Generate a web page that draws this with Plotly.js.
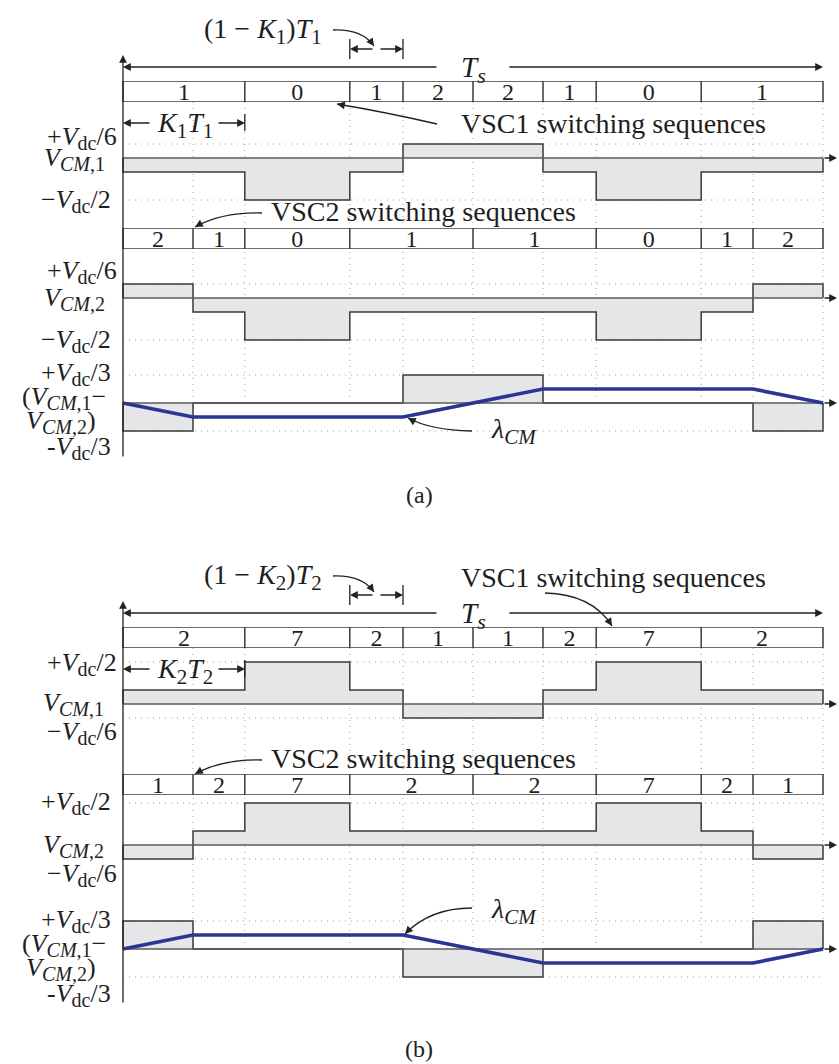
<!DOCTYPE html>
<html><head><meta charset="utf-8">
<script src="https://cdn.plot.ly/plotly-3.0.1.min.js"></script>
<style>html,body{margin:0;padding:0;background:#fff}</style>
</head><body><div id="chart" style="width:839px;height:1064px"></div>
<script>
// ---------------- data (time in fractions of Ts, voltages in units of Vdc/6) ----------------
const vsc1Bounds = [0, 0.174, 0.324, 0.4, 0.5, 0.6, 0.676, 0.826, 1];
const vsc2Bounds = [0, 0.1, 0.174, 0.324, 0.5, 0.676, 0.826, 0.9, 1];
const seqA1 = ['1','0','1','2','2','1','0','1'];
const seqA2 = ['2','1','0','1','1','0','1','2'];
const seqB1 = ['2','7','2','1','1','2','7','2'];
const seqB2 = ['1','2','7','2','2','7','2','1'];
const vcm1A = [-1,-3,-1,1,1,-1,-3,-1];
const vcm2A = [1,-1,-3,-1,-1,-3,-1,1];
const vcm1B = [1,3,1,-1,-1,1,3,1];
const vcm2B = [-1,1,3,1,1,3,1,-1];
const diffBounds = [0, 0.1, 0.4, 0.6, 0.9, 1];
const diffA = [-2,0,2,0,-2];
const diffB = [2,0,-2,0,2];
const lamT = [0, 0.1, 0.4, 0.6, 0.9, 1];
const lamA = [0,-1,-1,1,1,0];
const lamB = [0,1,1,-1,-1,0];

// ---------------- layout helpers ----------------
const W=839, H=1064, X0=123, XW=700, U=14;
const FONT='Liberation Serif, "Times New Roman", serif';
const TXT='#1e1e1e', EDGE='#3a3a3a', AXC='#5a5a5a', DOT='#a0a0a0';
function rowAx(t,b){return {domain:[1-b/H,1-t/H],range:[0,1],visible:false,anchor:'x',fixedrange:true};}
function waveAx(z){return {domain:[1-(z+4.5*U)/H,1-(z-4.5*U)/H],range:[-4.5,4.5],visible:false,anchor:'x',fixedrange:true};}

const layout={width:W,height:H,margin:{l:0,r:0,t:0,b:0},showlegend:false,
  paper_bgcolor:'#fff',plot_bgcolor:'rgba(0,0,0,0)',
  xaxis:{range:[-X0/XW,(W-X0)/XW],visible:false,domain:[0,1],anchor:'y',fixedrange:true},
  yaxis:rowAx(81,102), yaxis2:waveAx(158), yaxis3:rowAx(228,249), yaxis4:waveAx(298), yaxis5:waveAx(403),
  yaxis6:rowAx(627,648), yaxis7:waveAx(704), yaxis8:rowAx(774,795), yaxis9:waveAx(845), yaxis10:waveAx(949)};

const traces=[], shapes=[], annotations=[];

function rowTraces(bounds, labels, ya){
  const xs=[0,1,null,0,1,null], ys=[0,0,null,1,1,null];
  bounds.forEach(b=>{xs.push(b,b,null);ys.push(0,1,null);});
  shapes.push({type:'rect',xref:'x',yref:ya,x0:0,x1:1,y0:0,y1:1,fillcolor:'#fff',line:{width:0},layer:'below'});
  traces.push({x:xs,y:ys,yaxis:ya,mode:'lines',line:{color:EDGE,width:1.5},hoverinfo:'skip'});
  const mx=labels.map((_,i)=>(bounds[i]+bounds[i+1])/2);
  traces.push({x:mx,y:labels.map(()=>0.4),text:labels,yaxis:ya,mode:'text',textposition:'middle center',
    textfont:{family:FONT,size:24,color:TXT},hoverinfo:'skip'});
}
function waveTrace(bounds, vals, ya){
  const xs=[bounds[0]], ys=[0];
  vals.forEach((v,i)=>{xs.push(bounds[i]);ys.push(v);});
  xs.push(bounds[bounds.length-1],bounds[bounds.length-1]); ys.push(vals[vals.length-1],0);
  traces.push({x:xs,y:ys,yaxis:ya,mode:'lines',line:{shape:'hv',color:EDGE,width:1.5},
    fill:'tozeroy',fillcolor:'#e5e6e8',hoverinfo:'skip'});
}
function zeroAxis(ya){
  traces.push({x:[0,1],y:[0,0],yaxis:ya,mode:'lines',line:{color:AXC,width:1.3},hoverinfo:'skip'});
  annotations.push({xref:'x',yref:ya,x:(W-2-X0)/XW,y:0,axref:'x',ayref:ya,ax:1,ay:0,text:'',showarrow:true,
    arrowhead:2,arrowsize:1.2,arrowwidth:1.3,arrowcolor:'#222',standoff:0});
}
function hdot(ya, level){
  shapes.push({type:'line',xref:'x',yref:ya,x0:0,x1:1,y0:level,y1:level,line:{color:DOT,width:1,dash:'1px,5px'},layer:'below'});
}
function lab(text,x,y,size,xanchor){
  annotations.push({xref:'paper',yref:'paper',x:x/W,y:1-y/H,text,showarrow:false,xanchor:xanchor||'center',yanchor:'middle',
    font:{family:FONT,size,color:TXT}});
}
function arrowPx(hx,hy,tx,ty,w){
  annotations.push({xref:'paper',yref:'paper',x:hx/W,y:1-hy/H,axref:'pixel',ayref:'pixel',ax:tx-hx,ay:ty-hy,text:'',
    showarrow:true,arrowhead:2,arrowsize:1.2,arrowwidth:w||1.3,arrowcolor:'#222',standoff:0});
}
function arrowT(ht,hy,tt,w){
  annotations.push({xref:'x',yref:'paper',x:ht,y:1-hy/H,axref:'x',ayref:'pixel',ax:tt,ay:0,text:'',
    showarrow:true,arrowhead:2,arrowsize:1.2,arrowwidth:w||1.3,arrowcolor:'#222',standoff:0});
}
function vtick(t,y0,y1){
  shapes.push({type:'line',xref:'x',yref:'paper',x0:t,x1:t,y0:1-y0/H,y1:1-y1/H,line:{color:'#222',width:1.3}});
}
function curve(x0,y0,cx,cy,x1,y1){
  shapes.push({type:'path',xref:'paper',yref:'paper',
    path:`M ${x0/W} ${1-y0/H} Q ${cx/W} ${1-cy/H} ${x1/W} ${1-y1/H}`,line:{color:'#222',width:1.3}});
  const dx=cx-x1, dy=cy-y1, L=Math.hypot(dx,dy);
  arrowPx(x1,y1,x1+dx/L*6,y1+dy/L*6);
}

// vertical dotted grid lines at all switching instants
const allB=[...new Set([...vsc1Bounds,...vsc2Bounds])].filter(b=>b>0).sort((a,b)=>a-b);
function vgrid(top,bottom){
  allB.forEach(b=>shapes.push({type:'line',xref:'x',yref:'paper',x0:b,x1:b,y0:1-top/H,y1:1-bottom/H,
    line:{color:DOT,width:1,dash:'1px,5px'},layer:'below'}));
}

function panel(o){
  vgrid(o.gridTop,o.gridBot);
  hdot(o.ya1,o.dot1[0]); hdot(o.ya1,o.dot1[1]);
  hdot(o.ya2,o.dot2[0]); hdot(o.ya2,o.dot2[1]);
  hdot(o.yd,2); hdot(o.yd,-2);
  rowTraces(vsc1Bounds,o.seq1,o.yr1);
  rowTraces(vsc2Bounds,o.seq2,o.yr2);
  waveTrace(vsc1Bounds,o.v1,o.ya1);
  waveTrace(vsc2Bounds,o.v2,o.ya2);
  waveTrace(diffBounds,o.d,o.yd);
  zeroAxis(o.ya1); zeroAxis(o.ya2); zeroAxis(o.yd);
  traces.push({x:lamT,y:o.lam,yaxis:o.yd,mode:'lines',line:{color:'#2b3592',width:3.6},hoverinfo:'skip'});
}

panel({gridTop:102,gridBot:403,ya1:'y2',ya2:'y4',yd:'y5',yr1:'y',yr2:'y3',dot1:[1,-3],dot2:[1,-3],
  seq1:seqA1,seq2:seqA2,v1:vcm1A,v2:vcm2A,d:diffA,lam:lamA});
panel({gridTop:648,gridBot:949,ya1:'y7',ya2:'y9',yd:'y10',yr1:'y6',yr2:'y8',dot1:[3,-1],dot2:[3,-1],
  seq1:seqB1,seq2:seqB2,v1:vcm1B,v2:vcm2B,d:diffB,lam:lamB});

// ---------- text helpers ----------
const LS=26;
const sb=(t,s)=>`<sub><span style="font-size:${s||20}px">${t}</span></sub>`;
const Vdc=(pre,post)=>`${pre}<i>V</i>${sb('dc')}/${post}`;
const Vcm=(k)=>`<i>V</i>${sb('<i>CM</i>,'+k)}`;

function common(dy, k){
  arrowPx(X0,55+dy,X0,458+dy);
  arrowT(0,67+dy,0.45); arrowT(1,67+dy,0.55);
  lab('<i>T</i>'+sb('<i>s</i>',22),473,69+dy,29);
  vtick(vsc1Bounds[2],39+dy,59+dy); vtick(vsc1Bounds[3],39+dy,59+dy);
  arrowPx(350,49+dy,374,49+dy); arrowPx(403,49+dy,379,49+dy);
  lab(`(1 − <i>K</i>${sb(k,21)})<i>T</i>${sb(k,21)}`,263,31+dy,28);
  curve(333,30+dy,362,29+dy,374,46+dy);
  const ky=123+dy;
  vtick(vsc1Bounds[1],ky-9,ky+8);
  arrowPx(123,ky,151,ky); arrowPx(245,ky,217,ky);
  lab(`<i>K</i>${sb(k,21)}<i>T</i>${sb(k,21)}`,185,ky+2,28);
}
common(0,1);
common(546,2);

// panel (a)
lab('VSC1 switching sequences',613,124,28);
curve(437,124,385,112,337,104);
lab('VSC2 switching sequences',423,211,28);
curve(262,213,222,212,195,227);
lab('<i>λ</i>'+sb('<i>CM</i>',21),514,431,28);
curve(472,431,430,430,408,418);
lab('(a)',419,495,24);
lab(Vdc('+','6'),119,138,LS,'right');
lab(Vcm(1),107,159,LS,'right');
lab(Vdc('−','2'),113,201,LS,'right');
lab(Vdc('+','6'),119,272,LS,'right');
lab(Vcm(2),107,299,LS,'right');
lab(Vdc('−','2'),113,341,LS,'right');
lab(Vdc('+','3'),113,374,LS,'right');
lab('('+Vcm(1)+'−',108,398,LS,'right');
lab(Vcm(2)+')',98,422,LS,'right');
lab(Vdc('-','3'),113,448,LS,'right');

// panel (b)
lab('VSC1 switching sequences',613,577,28);
curve(545,593,592,594,612,626);
lab('VSC2 switching sequences',423,758,28);
curve(262,760,222,759,195,774);
lab('<i>λ</i>'+sb('<i>CM</i>',21),514,911,28);
curve(472,908,430,908,405,934);
lab('(b)',419,1049,24);
lab(Vdc('+','2'),119,664,LS,'right');
lab(Vcm(1),106,704,LS,'right');
lab(Vdc('−','6'),119,733,LS,'right');
lab(Vdc('+','2'),113,803,LS,'right');
lab(Vcm(2),106,846,LS,'right');
lab(Vdc('−','6'),119,875,LS,'right');
lab(Vdc('+','3'),113,921,LS,'right');
lab('('+Vcm(1)+'−',108,945,LS,'right');
lab(Vcm(2)+')',98,969,LS,'right');
lab(Vdc('-','3'),113,995,LS,'right');

traces.forEach(t=>{t.xaxis='x';});
layout.shapes=shapes; layout.annotations=annotations;
Plotly.newPlot('chart',traces,layout,{displayModeBar:false,staticPlot:true});
</script></body></html>
